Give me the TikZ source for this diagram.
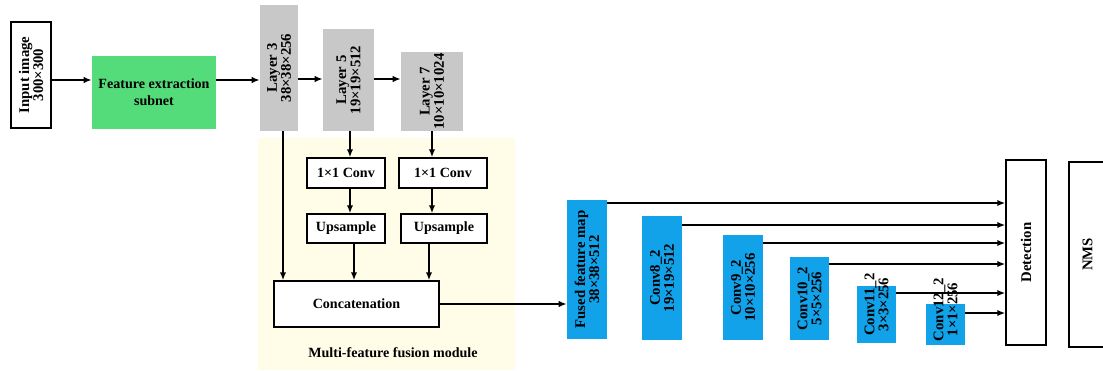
\documentclass[tikz,border=0pt]{standalone}
\usepackage{fontspec}
\setmainfont{Liberation Serif}
\usetikzlibrary{
  arrows.meta,
  positioning
}
\definecolor{featgreen}{RGB}{85,220,122}
\definecolor{layergray}{RGB}{200,200,200}
\definecolor{mapblue}{RGB}{18,162,234}
\definecolor{fusecream}{RGB}{255,253,232}

\begin{document}
\begin{tikzpicture}[
  x=0.025cm, y=-0.025cm,
  every node/.style={font=\fontsize{10}{12}\selectfont\bfseries, inner sep=0pt},
  plain/.style={draw=black, line width=1pt, fill=white, align=center},
  layer/.style={fill=layergray},
  fmap/.style={fill=mapblue},
  vtext/.style={rotate=90, align=center, font=\fontsize{10.5}{10}\selectfont\bfseries},
  arr/.style={-{Latex[length=2mm,width=1.6mm]}, line width=1.3pt}
]
\useasboundingbox (0,0) rectangle (1103,370);

% fusion module background
\node[fill=fusecream, minimum width=6.425cm, minimum height=5.8cm] (fuse) at (386.5,254) {};
\node (fuselab) at (393,353) {Multi-feature fusion module};

% backbone
\node[plain, minimum width=1cm, minimum height=2.65cm,
  label={[vtext]center:Input image\\300×300}] (inp) at (31,75) {};
\node[fill=featgreen, align=center, minimum width=3.1cm, minimum height=1.825cm] (feat) at (154,92.5) {Feature extraction\\subnet};
\node[layer, minimum width=0.95cm, minimum height=3.15cm,
  label={[vtext]center:Layer 3\\38×38×256}] (l3) at (279,68) {};
\node[layer, minimum width=1.275cm, minimum height=2.55cm,
  label={[vtext]center:Layer 5\\19×19×512}] (l5) at (348.5,80) {};
\node[layer, minimum width=1.55cm, minimum height=1.975cm,
  label={[vtext]center:Layer 7\\10×10×1024}] (l7) at (432,91.5) {};

% fusion module
\node[plain, minimum width=1.95cm, minimum height=0.75cm] (conv1) at (346,173) {1×1 Conv};
\node[plain, minimum width=2.2cm, minimum height=0.75cm] (conv2) at (443,173) {1×1 Conv};
\node[plain, minimum width=1.95cm, minimum height=0.725cm] (up1) at (346,228.5) {Upsample};
\node[plain, minimum width=2.15cm, minimum height=0.725cm] (up2) at (444,228.5) {Upsample};
\node[plain, minimum width=4.125cm, minimum height=1.15cm] (cat) at (356.5,304) {Concatenation};

% feature maps
\node[fmap, minimum width=1cm, minimum height=3.475cm,
  label={[vtext]center:Fused feature map\\38×38×512}] (fused) at (587,269.5) {};
\node[fmap, minimum width=1cm, minimum height=3.1cm,
  label={[vtext]center:Conv8\_2\\19×19×512}] (c8) at (662,278) {};
\node[fmap, minimum width=1cm, minimum height=2.625cm,
  label={[vtext]center:Conv9\_2\\10×10×256}] (c9) at (743,287.5) {};
\node[fmap, minimum width=0.975cm, minimum height=2.075cm,
  label={[vtext]center:Conv10\_2\\5×5×256}] (c10) at (809.5,298.5) {};
\node[fmap, minimum width=0.975cm, minimum height=1.425cm,
  label={[vtext, xshift=0.25cm]center:Conv11\_2\\3×3×256}] (c11) at (876.5,314.5) {};
\node[fmap, minimum width=0.975cm, minimum height=1.025cm,
  label={[vtext, xshift=0.375cm]center:Conv12\_2\\1×1×256}] (c12) at (945.5,324.5) {};

% heads
\node[plain, minimum width=1cm, minimum height=4.625cm,
  label={[vtext]center:Detection}] (det) at (1026,252.5) {};
\node[plain, minimum width=0.925cm, minimum height=4.625cm,
  label={[vtext]center:NMS}] (nms) at (1087.5,254.5) {};

% connections
\draw[arr] (inp.east |- 0,80) -- (feat.west |- 0,80);
\draw[arr] (feat.east |- 0,80) -- (l3.west |- 0,80);
\draw[arr] (l3.east |- 0,79) -- (l5.west |- 0,79);
\draw[arr] (l5.east |- 0,79) -- (l7.west |- 0,79);
\draw[arr] (l3.south -| 283,0) -- (cat.north -| 283,0);
\draw[arr] (l5.south -| 350,0) -- (conv1.north -| 350,0);
\draw[arr] (l7.south) -- (l7.south |- conv2.north);
\draw[arr] (conv1.south -| 350,0) -- (up1.north -| 350,0);
\draw[arr] (conv2.south -| 432,0) -- (up2.north -| 432,0);
\draw[arr] (up1.south -| 354,0) -- (cat.north -| 354,0);
\draw[arr] (up2.south -| 429,0) -- (cat.north -| 429,0);
\draw[arr] (cat.east) -- (fused.west |- cat.east);
\foreach \b/\y in {fused/203, c8/225, c9/243, c10/264, c11/293, c12/313}
  \draw[arr] (\b.east |- 0,\y) -- (det.west |- 0,\y);
\end{tikzpicture}
\end{document}
